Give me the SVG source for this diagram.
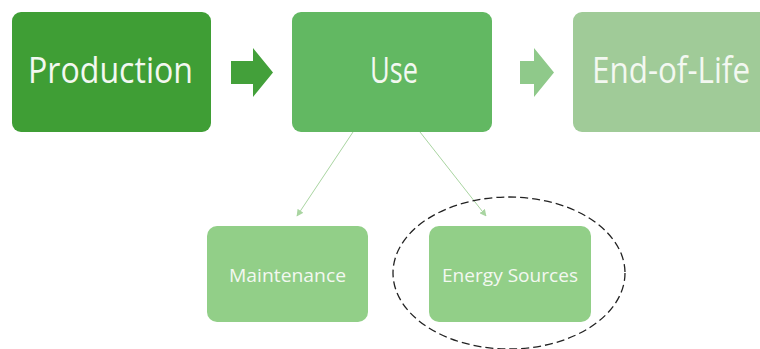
<svg xmlns="http://www.w3.org/2000/svg" width="760" height="349" viewBox="0 0 760 349">
<defs>
<style>
.big{font-family:"Open Sans","Liberation Sans",sans-serif;font-size:36px;fill:#f3f8f1;text-anchor:middle}
.small{font-family:"Open Sans","Liberation Sans",sans-serif;font-size:18.5px;fill:#f3f8f1;text-anchor:middle}
.conn{stroke:#a9d5a1;stroke-width:1;fill:none}
</style>
<marker id="ah" viewBox="0 0 10 10" refX="9" refY="5" markerWidth="7" markerHeight="7" orient="auto" markerUnits="userSpaceOnUse">
<path d="M0,0 L10,5 L0,10 z" fill="#a9d5a1"/>
</marker>
</defs>
<rect width="760" height="349" fill="#ffffff"/>
<g id="production">
<rect x="12" y="12" width="199" height="120" rx="9" fill="#3f9e35"/>
<text class="big" x="110.5" y="83" textLength="165" lengthAdjust="spacingAndGlyphs">Production</text>
</g>
<g id="arrow1">
<path d="M231,61 L253,61 L253,48 L273,72.5 L253,97 L253,84 L231,84 z" fill="#43a03a"/>
</g>
<g id="use">
<rect x="292" y="12" width="200" height="120" rx="9" fill="#62b862"/>
<text class="big" x="394" y="83" textLength="48" lengthAdjust="spacingAndGlyphs">Use</text>
</g>
<g id="arrow2">
<path d="M520,61 L534,61 L534,48 L554,72.5 L534,97 L534,84 L520,84 z" fill="#8fc98a"/>
</g>
<g id="endoflife">
<rect x="573" y="12" width="200" height="120" rx="9" fill="#a0cb98"/>
<text class="big" x="671" y="83" textLength="158" lengthAdjust="spacingAndGlyphs">End-of-Life</text>
</g>
<g id="connectors">
<line class="conn" x1="353" y1="132" x2="297" y2="216" marker-end="url(#ah)"/>
<line class="conn" x1="420" y1="132" x2="486" y2="216" marker-end="url(#ah)"/>
</g>
<g id="maintenance">
<rect x="207" y="226" width="161" height="96" rx="10" fill="#92cf88"/>
<text class="small" x="287.5" y="282" textLength="117" lengthAdjust="spacingAndGlyphs">Maintenance</text>
</g>
<g id="energy">
<rect x="429" y="226" width="162" height="96" rx="10" fill="#92cf88"/>
<text class="small" x="510" y="282" textLength="136" lengthAdjust="spacingAndGlyphs">Energy Sources</text>
</g>
<g id="highlight">
<ellipse cx="509" cy="273" rx="116" ry="76" fill="none" stroke="#222" stroke-width="1.3" stroke-dasharray="8,4"/>
</g>
</svg>
